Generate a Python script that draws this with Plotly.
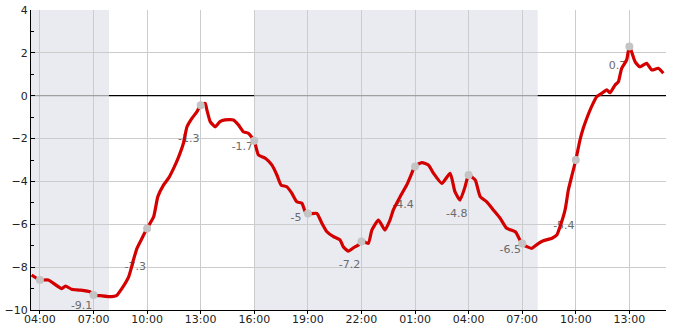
import plotly.graph_objects as go

# ---- data ----
times = [
    "2024-01-15 03:32", "2024-01-15 04:00", "2024-01-15 04:28", "2024-01-15 05:13", "2024-01-15 05:26",
    "2024-01-15 05:46", "2024-01-15 06:14", "2024-01-15 06:48", "2024-01-15 07:00", "2024-01-15 07:22",
    "2024-01-15 08:00", "2024-01-15 08:17", "2024-01-15 08:35", "2024-01-15 08:58", "2024-01-15 09:14",
    "2024-01-15 09:26", "2024-01-15 09:43", "2024-01-15 10:00", "2024-01-15 10:22", "2024-01-15 10:36",
    "2024-01-15 10:55", "2024-01-15 11:12", "2024-01-15 11:29", "2024-01-15 11:46", "2024-01-15 12:02",
    "2024-01-15 12:14", "2024-01-15 12:31", "2024-01-15 12:47", "2024-01-15 13:00", "2024-01-15 13:15",
    "2024-01-15 13:21", "2024-01-15 13:32", "2024-01-15 13:49", "2024-01-15 14:05", "2024-01-15 14:22",
    "2024-01-15 14:50", "2024-01-15 15:07", "2024-01-15 15:23", "2024-01-15 15:40", "2024-01-15 16:00",
    "2024-01-15 16:14", "2024-01-15 16:37", "2024-01-15 16:59", "2024-01-15 17:16", "2024-01-15 17:30",
    "2024-01-15 17:49", "2024-01-15 18:06", "2024-01-15 18:23", "2024-01-15 18:40", "2024-01-15 18:51",
    "2024-01-15 19:00", "2024-01-15 19:30", "2024-01-15 19:47", "2024-01-15 20:04", "2024-01-15 20:26",
    "2024-01-15 20:48", "2024-01-15 20:59", "2024-01-15 21:16", "2024-01-15 21:38", "2024-01-15 21:50",
    "2024-01-15 22:00", "2024-01-15 22:23", "2024-01-15 22:35", "2024-01-15 22:57", "2024-01-15 23:08",
    "2024-01-15 23:19", "2024-01-15 23:36", "2024-01-15 23:47", "2024-01-16 00:10", "2024-01-16 00:32",
    "2024-01-16 00:49", "2024-01-16 01:00", "2024-01-16 01:23", "2024-01-16 01:45", "2024-01-16 02:02",
    "2024-01-16 02:30", "2024-01-16 02:58", "2024-01-16 03:14", "2024-01-16 03:31", "2024-01-16 03:48",
    "2024-01-16 04:00", "2024-01-16 04:22", "2024-01-16 04:39", "2024-01-16 05:01", "2024-01-16 05:23",
    "2024-01-16 05:46", "2024-01-16 06:08", "2024-01-16 06:37", "2024-01-16 06:51", "2024-01-16 07:00",
    "2024-01-16 07:32", "2024-01-16 07:55", "2024-01-16 08:11", "2024-01-16 08:40", "2024-01-16 08:56",
    "2024-01-16 09:07", "2024-01-16 09:24", "2024-01-16 09:35", "2024-01-16 09:46", "2024-01-16 10:00",
    "2024-01-16 10:14", "2024-01-16 10:25", "2024-01-16 10:37", "2024-01-16 10:53", "2024-01-16 11:10",
    "2024-01-16 11:27", "2024-01-16 11:44", "2024-01-16 11:55", "2024-01-16 12:12", "2024-01-16 12:23",
    "2024-01-16 12:34", "2024-01-16 12:51", "2024-01-16 13:00", "2024-01-16 13:19", "2024-01-16 13:35",
    "2024-01-16 13:58", "2024-01-16 14:15", "2024-01-16 14:37", "2024-01-16 14:54",
]
temps = [
    -8.37, -8.6, -8.6, -9.0, -8.88,
    -9.03, -9.07, -9.15, -9.3, -9.33,
    -9.38, -9.33, -9.0, -8.45, -7.67,
    -7.12, -6.65, -6.19, -5.65, -4.71,
    -4.17, -3.85, -3.39, -2.85, -2.22,
    -1.45, -1.05, -0.75, -0.43, -0.36,
    -0.67, -1.21, -1.45, -1.21, -1.13,
    -1.13, -1.37, -1.68, -1.75, -2.11,
    -2.77, -2.92, -3.23, -3.7, -4.17,
    -4.25, -4.55, -4.95, -5.02, -5.41,
    -5.52, -5.49, -5.95, -6.35, -6.58,
    -6.73, -7.05, -7.25, -7.05, -6.97,
    -6.77, -6.89, -6.27, -5.8, -6.03,
    -6.27, -5.8, -5.33, -4.71, -4.17,
    -3.62, -3.28, -3.12, -3.23, -3.62,
    -4.09, -3.62, -4.48, -4.87, -4.25,
    -3.7, -3.93, -4.71, -4.95, -5.33,
    -5.72, -6.19, -6.35, -6.7, -6.93,
    -7.12, -6.89, -6.77, -6.65, -6.5,
    -6.11, -5.33, -4.4, -3.78, -3.0,
    -2.07, -1.52, -1.05, -0.51, -0.05,
    0.11, 0.27, 0.14, 0.5, 0.65,
    1.28, 1.67, 2.32, 1.59, 1.35,
    1.51, 1.2, 1.28, 1.05,
]

marker_times = [
    "2024-01-15 04:00", "2024-01-15 07:00", "2024-01-15 10:00", "2024-01-15 13:00",
    "2024-01-15 16:00", "2024-01-15 19:00", "2024-01-15 22:00", "2024-01-16 01:00",
    "2024-01-16 04:00", "2024-01-16 07:00", "2024-01-16 10:00", "2024-01-16 13:00",
]
marker_temps = [-8.6, -9.3, -6.2, -0.45, -2.1, -5.5, -6.8, -3.3, -3.7, -6.9, -3.0, 2.3]

label_times = [
    "2024-01-15 06:20", "2024-01-15 09:20", "2024-01-15 12:20", "2024-01-15 15:20",
    "2024-01-15 18:20", "2024-01-15 21:20", "2024-01-16 00:20", "2024-01-16 03:20",
    "2024-01-16 06:20", "2024-01-16 09:20", "2024-01-16 12:20",
]
label_text = ["-9.1", "-7.3", "-1.3", "-1.7", "-5", "-7.2", "-4.4", "-4.8", "-6.5", "-5.4", "0.7"]
label_y = [-9.1, -7.3, -1.3, -1.7, -5.0, -7.2, -4.4, -4.8, -6.5, -5.4, 2.1]

night_start = ["2024-01-15 03:30", "2024-01-15 16:00"]
night_end = ["2024-01-15 07:52", "2024-01-16 07:52"]

x_range = ["2024-01-15 03:30", "2024-01-16 15:03"]
y_range = [-10, 4]

# ---- figure ----
fig = go.Figure()

fig.add_trace(go.Scatter(
    x=label_times, y=label_y, mode="markers+text", text=label_text,
    textposition="bottom center",
    marker=dict(size=14, color="rgba(0,0,0,0)"),
    textfont=dict(family="DejaVu Sans", size=11, color="#6a6a6a"),
    hoverinfo="skip", showlegend=False,
))

fig.add_trace(go.Scatter(
    x=times, y=temps, mode="lines",
    line=dict(color="#d40000", width=3.2, shape="spline", smoothing=0.5),
    showlegend=False,
))

fig.add_trace(go.Scatter(
    x=marker_times, y=marker_temps, mode="markers",
    marker=dict(size=8, color="#c4c4c4"),
    showlegend=False,
))

shapes = []
for s, e in zip(night_start, night_end):
    shapes.append(dict(type="rect", xref="x", yref="y", x0=s, x1=e, y0=y_range[0], y1=y_range[1],
                       fillcolor="#eaebf1", line=dict(width=0), layer="below"))

# zero line: black in daytime, grey in night-time
bounds = [x_range[0]]
for s, e in zip(night_start, night_end):
    bounds += [s, e]
bounds.append(x_range[1])
for i in range(len(bounds) - 1):
    is_night = (i % 2 == 1)
    shapes.append(dict(type="line", xref="x", yref="y", x0=bounds[i], x1=bounds[i + 1], y0=0, y1=0,
                       line=dict(color="#a0a0a0" if is_night else "#000000", width=1.2),
                       layer="between"))

fig.update_layout(
    width=685, height=330,
    margin=dict(l=31, r=19, t=10, b=20, autoexpand=False),
    plot_bgcolor="white", paper_bgcolor="white",
    shapes=shapes,
    font=dict(family="DejaVu Sans", size=11, color="#222222"),
    xaxis=dict(
        range=x_range, type="date", automargin=False,
        tick0="2024-01-15 04:00", dtick=3 * 3600 * 1000, tickformat="%H:%M",
        showgrid=True, gridcolor="#cccccc", gridwidth=1,
        showline=True, linecolor="#000000", linewidth=1,
        ticks="outside", ticklen=3, tickcolor="#000000",
        ticklabelstandoff=-4,
        zeroline=False, fixedrange=True,
    ),
    yaxis=dict(
        range=y_range, dtick=2, tick0=0, automargin=False,
        showgrid=True, gridcolor="#cccccc", gridwidth=1,
        showline=True, linecolor="#000000", linewidth=1,
        ticks="inside", ticklen=4, tickcolor="#000000",
        minor=dict(dtick=1, ticks="inside", ticklen=3, tickcolor="#000000", showgrid=False),
        zeroline=False, fixedrange=True,
    ),
)

fig.write_html("out.html")
